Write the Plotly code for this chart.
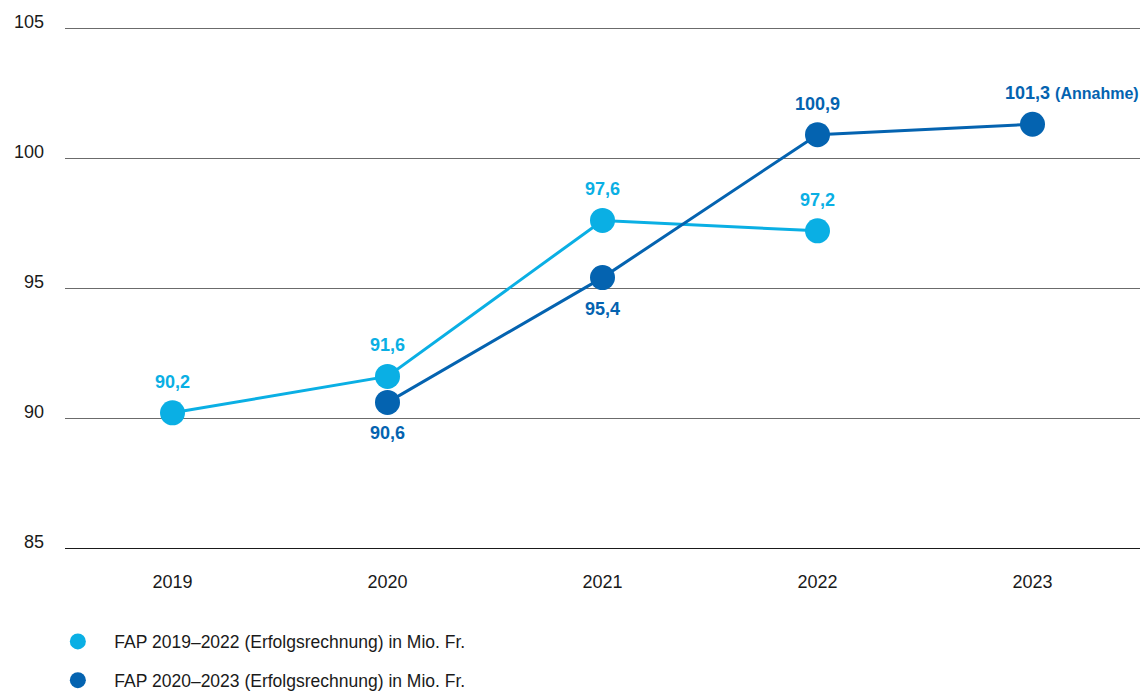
import plotly.graph_objects as go

years = ["2019", "2020", "2021", "2022", "2023"]
fap1_x = ["2019", "2020", "2021", "2022"]
fap1_y = [90.2, 91.6, 97.6, 97.2]
fap2_x = ["2020", "2021", "2022", "2023"]
fap2_y = [90.6, 95.4, 100.9, 101.3]
fap1_label_pos = ["above", "above", "above", "above"]
fap2_label_pos = ["below", "below", "above", "above"]
fap2_suffix = ["", "", "", " <span style='font-size:16px'>(Annahme)</span>"]
y_ticks = [85, 90, 95, 100, 105]
name1 = "FAP 2019–2022 (Erfolgsrechnung) in Mio. Fr."
name2 = "FAP 2020–2023 (Erfolgsrechnung) in Mio. Fr."

c1 = "#0AAFE4"
c2 = "#0463B0"
font = "Liberation Sans, Arial, sans-serif"

fig = go.Figure()
for xs, ys, col, nm, grp in [(fap1_x, fap1_y, c1, name1, "a"), (fap2_x, fap2_y, c2, name2, "b")]:
    fig.add_trace(go.Scatter(x=xs, y=ys, mode="lines+markers", name=nm,
                             line=dict(color=col, width=3), marker=dict(color=col, size=25),
                             legendgroup=grp, showlegend=False, hoverinfo="skip"))
    fig.add_trace(go.Scatter(x=[None], y=[None], mode="markers", name=nm,
                             marker=dict(color=col, size=25),
                             legendgroup=grp, showlegend=True, hoverinfo="skip"))

def fmt(v):
    return f"{v:.1f}".replace(".", ",")

annotations = []
for xs, ys, pos, col, suf in [(fap1_x, fap1_y, fap1_label_pos, c1, [""] * 4),
                              (fap2_x, fap2_y, fap2_label_pos, c2, fap2_suffix)]:
    for x, y, p, s in zip(xs, ys, pos, suf):
        a = dict(x=years.index(x), y=y, xref="x", yref="y", text=fmt(y) + s, showarrow=False,
                 font=dict(family=font, size=18, color=col, weight="bold"),
                 yshift=31 if p == "above" else -31)
        if s:
            a.update(xanchor="left", xshift=-30)
        annotations.append(a)

fig.update_layout(
    width=1141, height=691,
    margin=dict(l=65, r=1, t=27, b=143, autoexpand=False),
    paper_bgcolor="white", plot_bgcolor="white",
    font=dict(family=font, size=18, color="#1a1a1a"),
    showlegend=True,
    legend=dict(x=-0.022, y=-0.145, xanchor="left", yanchor="top",
                orientation="v", tracegroupgap=13, itemwidth=63,
                font=dict(family=font, size=17.5, color="#1a1a1a"),
                itemsizing="trace"),
    annotations=annotations,
    xaxis=dict(type="category", categoryorder="array", categoryarray=years,
               range=[-0.5, 4.5], showgrid=False, showline=True, linecolor="#1a1a1a",
               linewidth=1.2, ticks="outside", ticklen=17, tickcolor="rgba(0,0,0,0)",
               tickfont=dict(size=18, color="#1a1a1a"), zeroline=False),
    yaxis=dict(range=[85, 105.04], tickvals=y_ticks, showgrid=True, gridcolor="#6b6b6b",
               gridwidth=1, zeroline=False, showline=False, ticks="",
               ticklabelstandoff=20, ticklabelshift=-6,
               tickfont=dict(size=18, color="#1a1a1a")),
)
fig.write_html("out.html", config={"displayModeBar": False},
               post_script="document.body.style.margin='0';")
